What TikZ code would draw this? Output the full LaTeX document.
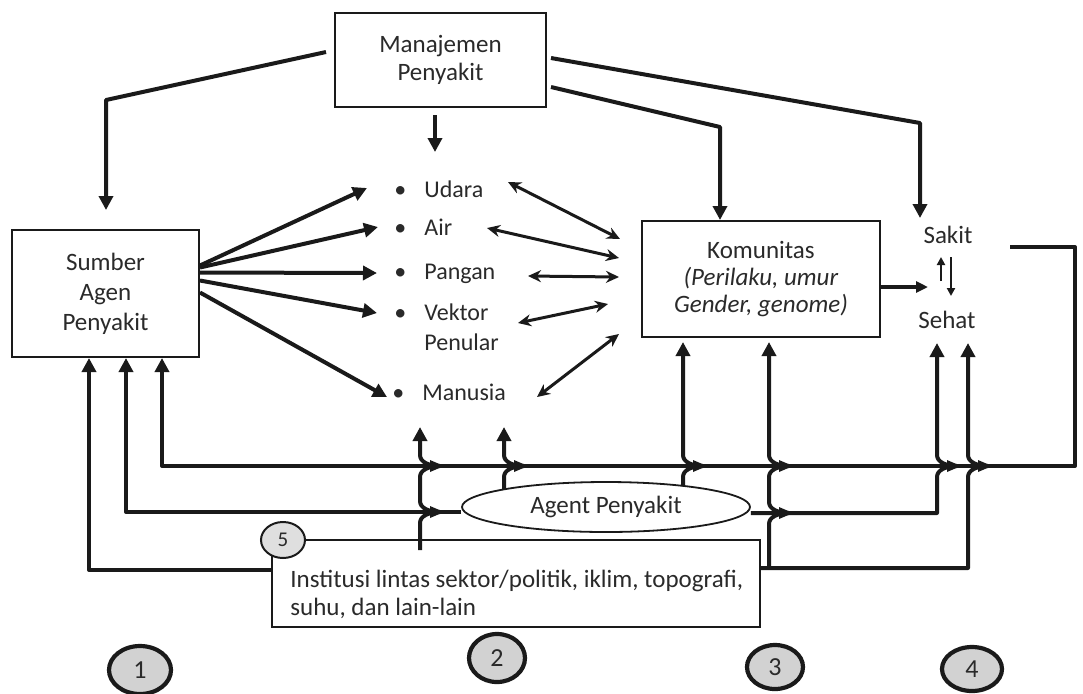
\documentclass[tikz,border=0pt]{standalone}
\usepackage{fontspec}
\setmainfont{Carlito}
\usetikzlibrary{arrows.meta,shapes.geometric,calc}
\definecolor{linecol}{HTML}{1A1A1A}
\definecolor{txtcol}{HTML}{2A2A2A}
\definecolor{numfill}{HTML}{D2D2D2}
\newcommand{\jg}[2]{-- (#1,#2+11) .. controls (#1,#2+4) and (#1+9,#2) .. (#1+20,#2) .. controls (#1+9,#2) and (#1,#2-4) .. (#1,#2-11)}
\newcommand{\jgtip}[2]{\fill[linecol] (#1+10,#2-6) -- (#1+24,#2) -- (#1+10,#2+6) -- cycle;}
\begin{document}
\begin{tikzpicture}[x=0.5pt,y=-0.5pt,
  txt/.style={text=txtcol,font=\fontsize{12.5}{15}\selectfont},
  box/.style={draw=linecol,line width=1pt,fill=white,inner sep=0pt,txt,align=center},
  conn/.style={draw=linecol,line width=2pt,line join=round},
  tip/.style={-{Triangle[length=7pt,width=7pt]}},
  stip/.style={-{Triangle[length=4pt,width=4pt]}},
  dbl/.style={draw=linecol,line width=1.5pt,{Stealth[length=6.5pt,width=6pt]}-{Stealth[length=6.5pt,width=6pt]}},
  item/.style={text=txtcol,font=\fontsize{12}{14}\selectfont,anchor=west,inner sep=0pt},
  num/.style={ellipse,draw=linecol,line width=2.1pt,fill=numfill,inner sep=0pt,text=txtcol,font=\fontsize{13}{13}\selectfont}
]
\useasboundingbox (0,0) rectangle (1083,693);

% ---- nodes
\node[box,minimum width=105.5pt,minimum height=47pt,font=\fontsize{12.5}{14}\selectfont] (manaj) at (440.5,60) {Manajemen\\Penyakit};
\node[box,minimum width=93.5pt,minimum height=63.5pt] (sumber) at (105.5,293.5) {Sumber\\Agen\\Penyakit};
\node[box,minimum width=119pt,minimum height=58pt,font=\fontsize{12.5}{13.5}\selectfont] (komun) at (761,279) {Komunitas\\\textit{(Perilaku, umur}\\\textit{Gender, genome)}};
\node[txt,inner sep=0pt] (sakit) at (948,235) {Sakit};
\node[txt,inner sep=0pt] (sehat) at (947,320) {Sehat};

\node[item] (udara) at (394,189) {\makebox[15pt][l]{\textbullet}Udara};
\node[item] (air) at (394,227) {\makebox[15pt][l]{\textbullet}Air};
\node[item] (pangan) at (394,274) {\makebox[15pt][l]{\textbullet}Pangan};
\node[item] (vektor) at (394,312) {\makebox[15pt][l]{\textbullet}Vektor};
\node[item] (penular) at (424,342) {Penular};
\node[item] (manusia) at (392,392) {\makebox[15pt][l]{\textbullet}Manusia};

% ---- manajemen connectors
\coordinate (m1) at (106,100);
\coordinate (m1e) at (106,210);
\draw[conn,tip] ([xshift=-4pt,yshift=4pt]manaj.west) -- (m1) -- (m1e);
\coordinate (m2s) at (435,115);
\coordinate (m2e) at (435,152);
\draw[conn,tip] (m2s) -- (m2e);
\coordinate (m3) at (720,127);
\draw[conn,tip] ([xshift=2pt,yshift=-13.5pt]manaj.east) -- (m3) -- (720,220);
\coordinate (m4) at (920,123);
\coordinate (m4e) at (920,218);
\draw[conn,tip] ([xshift=2pt,yshift=1pt]manaj.east) -- (m4) -- (m4e);

% ---- sumber to media
\coordinate (tu) at (367,188);
\coordinate (ta) at (378,227);
\coordinate (tp) at (377,273);
\coordinate (tv) at (377,313);
\coordinate (tm) at (387,397);
\draw[conn,tip] ([yshift=14pt]sumber.east) -- (tu);
\draw[conn,tip] ([yshift=13pt]sumber.east) -- (ta);
\draw[conn,tip] ([yshift=10.5pt]sumber.east) -- (tp);
\draw[conn,tip] ([yshift=6.5pt]sumber.east) -- (tv);
\draw[conn,tip] ([yshift=0.5pt]sumber.east) -- (tm);

% ---- media <-> komunitas
\coordinate (du1) at (508,182); \coordinate (du2) at (620,239);
\coordinate (da1) at (487,228); \coordinate (da2) at (619,258);
\coordinate (dp1) at (528,276); \coordinate (dp2) at (619,277);
\coordinate (dv1) at (518,323); \coordinate (dv2) at (608,304);
\coordinate (dm1) at (537,397); \coordinate (dm2) at (619,334);
\draw[dbl] (du1) -- (du2);
\draw[dbl] (da1) -- (da2);
\draw[dbl] (dp1) -- (dp2);
\draw[dbl] (dv1) -- (dv2);
\draw[dbl] (dm1) -- (dm2);

% ---- komunitas to sakit/sehat
\coordinate (ks) at (928,287);
\draw[conn,line width=1.6pt,-{Triangle[length=6pt,width=5.5pt]}] ([yshift=-4pt]komun.east) -- (ks);
\draw[draw=linecol,line width=1.2pt,stip] (941,281) -- (941,257);
\draw[draw=linecol,line width=1.2pt,stip] (951,257) -- (951,296);

% ---- bottom shapes
\node[draw=linecol,line width=1pt,fill=white,minimum width=244pt,minimum height=43.5pt,inner sep=0pt] (inst) at (516,583.5) {};
\node[txt,anchor=west,align=left,font=\fontsize{12.5}{14}\selectfont,inner sep=0pt] (insttxt) at (290,594) {Institusi lintas sektor/politik, iklim, topografi,\\suhu, dan lain-lain};
\node[ellipse,draw=linecol,line width=0.9pt,fill=white,minimum width=144pt,minimum height=25pt,inner sep=0pt,txt] (agent) at (606,507) {Agent Penyakit};

% line A : sakit -> sumber
\coordinate (a0) at (1010,247);
\coordinate (a1) at (1075,247);
\coordinate (a2) at (1075,466);
\coordinate (a3) at (162,466);
\draw[conn,tip] (a0) -- (a1) -- (a2) -- (a3) -- (sumber.south -| a3);
% line B : agent -> sumber
\coordinate (b1) at (126,512);
\draw[conn,tip] ([yshift=-2.5pt]agent.west) -- (b1) -- (sumber.south -| b1);
% line C : institusi -> sumber
\coordinate (c1) at (89,570);
\draw[conn,tip] (inst.west |- c1) -- (c1) -- (sumber.south -| c1);

% right side branches
\coordinate (b2) at (937,513);
\draw[conn,tip] ([yshift=-3pt]agent.east) -- (b2) \jg{937}{466} -- (937,343);
\coordinate (r1) at (968,568);
\draw[conn,tip] (inst.east |- r1) -- (r1) \jg{968}{466} -- (968,343);
\coordinate (v3s) at (769,568);
\draw[conn,tip] (v3s) \jg{769}{513} \jg{769}{466} -- (769,342);
\draw[conn,tip] (683,486) \jg{683}{466} -- (683,342);
\draw[conn,tip] (504,489) \jg{504}{466} -- (504,427);
\draw[conn,tip] (420,550) \jg{420}{512} \jg{420}{466} -- (420,427);
\jgtip{420}{512}
\jgtip{420}{466}
\jgtip{504}{466}
\jgtip{683}{466}
\jgtip{769}{466}
\jgtip{769}{513}
\jgtip{937}{466}
\jgtip{968}{466}

% ---- numbered circles
\node[num,line width=1pt,fill=numfill!70,minimum width=22pt,minimum height=18pt,font=\fontsize{10.5}{10.5}\selectfont] (c5) at (283,540) {5};
\node[num,minimum width=31pt,minimum height=24pt] (n1) at (140,670) {1};
\node[num,minimum width=28pt,minimum height=24pt] (n2) at (497,658) {2};
\node[num,minimum width=28pt,minimum height=22pt] (n3) at (775,667) {3};
\node[num,minimum width=30pt,minimum height=22pt] (n4) at (972,669) {4};
\end{tikzpicture}
\end{document}
